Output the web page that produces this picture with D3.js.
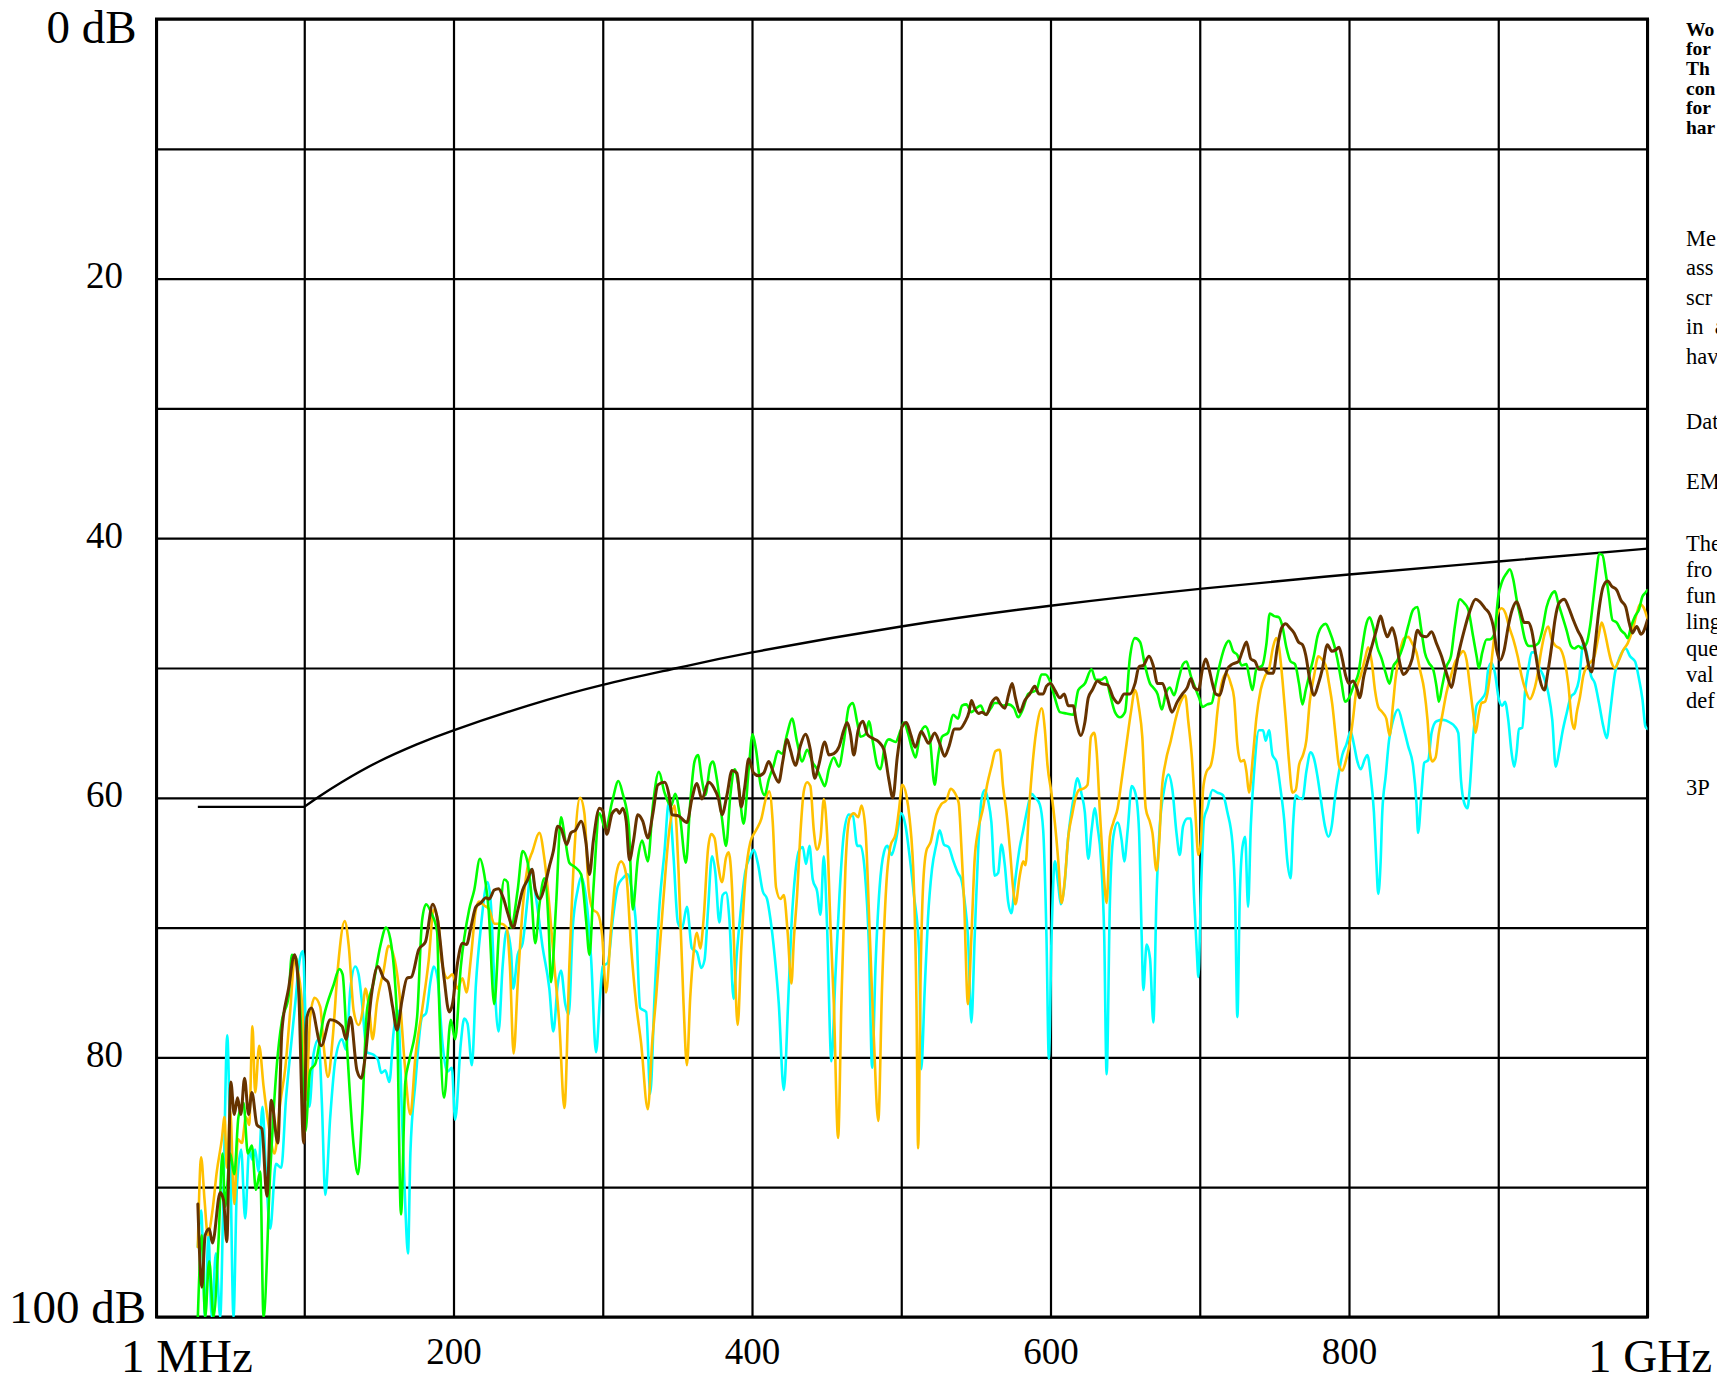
<!DOCTYPE html>
<html><head><meta charset="utf-8">
<script src="https://cdn.jsdelivr.net/npm/d3@7"></script>
<style>
html,body{margin:0;padding:0;background:#fff;overflow:hidden;}
svg{display:block;}
</style></head><body>
<svg id="chart" width="1717" height="1380"></svg>
<script>
// ---------- axes ----------
const xTickValues = [1,100,200,300,400,500,600,700,800,900,1000];
const xTickLabels = ["1 MHz","","200","","400","","600","","800","","1 GHz"];
const yTickValues = [0,10,20,30,40,50,60,70,80,90,100];
const yTickLabels = ["0 dB","","20","","40","","60","","80","","100 dB"];

// ---------- limit line (MHz, dB) ----------
const limitLine = [[28.7,60.7],[100,60.7],[110,59.9],[125,58.8],[150,57.2],[175,55.9],[200,54.8],[250,52.9],[300,51.3],[350,50.0],[400,48.8],[500,46.8],[600,45.2],[700,43.9],[800,42.8],[900,41.8],[1000,40.8]];

// ---------- measured series (MHz, dB) ----------
const seriesCyan = [[28.7,94.6],[30.9,91.8],[33.6,100],[35.8,93.7],[38.0,100],[40.8,95.1],[43.7,100],[45.9,90.2],[48.4,78.3],[50.4,87.4],[52.6,100],[54.8,90.2],[57.7,87.1],[60.4,92.4],[63.1,87.1],[65.3,87.9],[67.1,87.1],[69.3,88.8],[72.0,83.8],[74.3,88.8],[77.2,93.2],[81.0,88.2],[84.6,88.5],[87.7,83.3],[90.6,79.7],[94.0,75.8],[96.9,72.5],[99.1,71.8],[101.1,78.0],[103.4,83.8],[106.3,79.7],[109.6,78.6],[111.8,83.5],[114.1,90.6],[117.4,84.6],[120.8,80.2],[125.3,78.6],[128.0,79.4],[130.9,74.7],[134.2,73.0],[136.4,73.6],[138.7,75.8],[142.0,79.6],[146.5,79.8],[149.4,80.2],[151.6,81.2],[154.3,81.0],[157.0,81.9],[159.9,78.0],[162.8,76.4],[165.5,84.6],[167.7,91.5],[169.5,95.1],[171.1,87.4],[174.5,81.9],[178.9,76.9],[181.6,76.6],[184.5,74.2],[186.7,73.0],[189.3,73.9],[192.6,78.9],[196.0,81.1],[198.9,80.8],[201.1,84.8],[204.9,78.9],[207.2,77.0],[209.4,77.4],[212.3,80.6],[215.0,74.4],[218.3,70.0],[222.8,66.5],[225.1,68.3],[227.3,73.9],[230.2,78.0],[232.9,73.0],[235.6,70.2],[238.5,71.8],[240.0,74.7],[243.0,72.1],[246.3,71.2],[249.7,67.7],[251.9,65.5],[255.3,67.7],[259.7,71.5],[264.2,74.7],[266.9,78.0],[269.8,74.4],[272.0,73.3],[274.9,75.9],[277.2,76.7],[279.9,70.0],[283.2,67.1],[285.5,66.1],[288.8,67.7],[292.2,72.4],[295.5,79.6],[298.2,75.3],[300.0,73.0],[303.4,72.7],[306.7,69.4],[310.1,66.8],[313.4,66.2],[316.8,65.9],[319.0,66.8],[322.4,70.0],[325.1,76.2],[329.1,76.5],[331.8,82.8],[334.7,75.3],[338.0,68.3],[341.4,64.1],[344.3,60.3],[347.4,64.5],[350.3,69.6],[353.0,70.1],[356.4,68.4],[359.7,71.6],[363.1,71.9],[366.0,73.1],[368.2,72.5],[370.5,68.7],[373.2,64.5],[375.4,65.7],[378.1,69.6],[380.3,67.5],[382.6,67.3],[384.8,69.3],[387.7,75.5],[389.9,71.9],[392.2,69.0],[395.5,65.7],[398.9,64.5],[401.1,64.0],[404.0,65.1],[407.2,67.2],[410.1,67.8],[412.3,69.3],[415.2,72.2],[417.9,75.8],[421.3,82.5],[424.2,75.8],[426.4,69.9],[429.1,65.7],[431.8,64.0],[434.0,63.8],[436.2,65.1],[438.5,63.7],[440.7,66.3],[443.6,67.2],[445.9,69.0],[448.1,64.5],[450.3,69.9],[453.2,80.3],[455.9,73.7],[458.6,67.5],[461.5,62.8],[464.9,61.3],[467.6,61.4],[470.5,63.7],[472.7,63.7],[475.6,65.7],[478.3,71.3],[480.5,80.8],[482.8,72.8],[485.5,66.9],[488.4,64.2],[490.6,63.7],[493.5,64.4],[496.2,63.4],[500.2,61.2],[502.9,62.2],[505.6,64.5],[508.5,67.5],[511.9,71.6],[513.4,80.9],[515.7,74.8],[517.9,69.3],[520.6,65.5],[523.5,63.6],[525.7,62.5],[528.6,63.6],[531.8,63.8],[534.7,64.8],[538.0,65.8],[540.3,66.3],[542.5,68.0],[544.7,70.7],[547.0,77.3],[549.2,70.7],[551.5,64.1],[553.7,60.2],[555.9,59.4],[558.2,60.2],[560.4,61.9],[562.6,66.0],[564.9,65.8],[567.1,63.6],[569.4,65.2],[571.6,68.0],[573.8,68.9],[576.1,66.6],[579.4,63.8],[581.7,62.5],[584.6,60.8],[587.2,59.7],[589.9,60.0],[592.8,60.5],[595.1,62.5],[597.3,70.7],[598.9,80.1],[600.7,70.7],[602.9,64.9],[605.1,66.6],[606.9,68.2],[609.2,66.9],[611.9,63.0],[615.2,60.2],[618.1,58.5],[620.8,59.7],[623.0,61.1],[625.3,64.7],[627.5,62.5],[629.8,60.8],[631.5,62.2],[633.8,64.7],[636.0,70.7],[637.6,81.3],[639.8,68.0],[642.1,63.0],[645.0,61.9],[647.7,63.3],[649.4,64.9],[651.7,62.5],[654.4,59.1],[657.0,59.7],[659.3,62.5],[661.1,70.7],[662.2,74.8],[664.4,71.3],[666.7,72.4],[668.9,77.3],[671.0,67.7],[673.2,62.2],[676.1,59.4],[679.0,58.2],[681.7,59.4],[684.4,62.7],[686.6,64.4],[688.8,62.2],[691.7,61.6],[694.0,61.6],[696.2,67.7],[698.0,71.8],[699.1,73.8],[700.7,67.7],[702.9,61.6],[705.1,60.8],[708.5,59.4],[711.8,59.6],[715.6,59.8],[718.5,61.1],[721.9,63.5],[723.7,67.7],[725.2,76.9],[726.8,67.7],[728.6,63.8],[730.4,63.0],[732.4,68.4],[734.2,62.2],[736.4,58.0],[739.7,54.8],[742.4,54.8],[744.2,55.6],[746.4,54.8],[748.7,56.7],[751.3,57.2],[754.2,59.4],[756.5,61.6],[758.7,64.9],[760.9,66.2],[762.5,62.2],[764.3,59.8],[766.5,60.0],[768.8,60.1],[771.4,58.0],[774.3,56.5],[776.6,57.0],[778.8,58.3],[781.0,60.0],[783.9,62.2],[786.2,63.0],[788.4,62.2],[790.6,60.0],[793.3,58.0],[795.5,56.7],[798.2,55.9],[801.1,54.9],[803.3,55.9],[805.6,57.2],[807.8,57.8],[810.7,57.0],[812.3,56.7],[814.5,58.3],[816.7,61.1],[818.3,64.9],[819.6,67.4],[821.2,64.9],[822.3,61.1],[824.6,58.3],[826.8,55.6],[829.6,54.0],[832.9,53.2],[836.3,54.5],[839.6,56.0],[843.0,57.6],[845.2,60.4],[846.3,62.7],[848.6,59.6],[850.4,57.3],[853.1,57.1],[855.3,55.0],[858.6,54.1],[863.1,54.0],[867.6,54.2],[870.9,54.5],[873.2,55.0],[875.0,58.6],[877.2,60.4],[879.4,60.8],[881.0,59.1],[883.2,55.3],[885.5,52.9],[888.8,52.4],[891.5,51.9],[893.3,50.1],[895.5,49.6],[897.8,50.4],[900.4,52.4],[902.7,52.9],[904.5,52.6],[906.7,54.0],[908.9,56.5],[910.7,57.6],[912.3,56.5],[913.9,54.7],[916.1,54.6],[917.9,51.9],[920.1,50.1],[922.4,48.8],[924.6,48.8],[927.3,49.9],[930.2,50.6],[933.5,51.9],[936.2,54.0],[938.5,57.6],[940.7,56.5],[942.9,55.0],[945.8,53.5],[948.7,52.2],[951.4,51.9],[954.1,50.9],[957.0,48.1],[959.2,48.8],[962.2,50.6],[964.8,51.2],[967.5,52.7],[970.4,54.5],[972.7,55.4],[974.9,53.5],[978.2,50.4],[981.6,49.1],[985.4,48.5],[988.3,49.1],[991.7,49.5],[993.9,50.6],[996.6,52.4],[998.6,54.5],[1000,54.7]];

const seriesOrange = [[28.7,94.6],[30.9,87.7],[33.2,91.0],[35.4,93.7],[38.5,91.8],[41.4,88.8],[44.8,86.3],[46.6,84.6],[48.1,88.5],[50.4,84.1],[53.1,91.3],[55.5,86.3],[58.2,86.6],[60.9,84.6],[63.1,85.2],[65.3,77.6],[67.1,82.7],[69.8,79.1],[72.7,82.2],[76.1,85.2],[80.1,87.4],[83.9,83.5],[87.3,80.8],[90.6,76.4],[93.5,72.5],[96.2,73.6],[98.4,75.8],[101.1,83.3],[104.0,76.9],[106.9,75.4],[110.7,76.1],[113.0,79.1],[115.9,81.5],[119.0,78.6],[122.6,73.0],[127.1,69.5],[129.8,71.4],[133.1,76.4],[136.4,77.5],[139.1,76.4],[140.9,74.7],[143.6,76.4],[145.8,78.6],[148.7,75.8],[153.2,73.3],[156.5,71.4],[160.6,72.5],[163.7,75.0],[167.3,80.5],[171.1,84.4],[174.5,79.9],[178.9,76.4],[183.4,72.5],[186.7,68.6],[189.7,69.5],[192.0,72.5],[196.0,73.9],[199.3,73.6],[202.7,74.7],[206.0,73.9],[208.7,75.0],[211.6,72.4],[215.0,68.6],[217.2,68.0],[220.6,68.3],[223.9,68.6],[227.3,69.7],[231.8,69.7],[235.6,70.0],[237.8,73.0],[240.3,79.7],[243.0,74.4],[246.3,68.6],[249.7,65.3],[253.0,64.1],[257.5,62.7],[260.9,64.7],[264.2,68.3],[267.6,73.0],[270.9,77.4],[274.3,83.9],[277.6,73.0],[281.0,64.1],[284.8,60.0],[287.7,61.2],[290.6,67.1],[293.3,68.6],[296.6,68.9],[299.6,70.6],[302.2,75.0],[305.6,70.0],[309.0,65.9],[312.3,64.9],[315.7,65.9],[319.0,71.5],[322.4,75.9],[325.7,78.9],[330.2,84.0],[333.1,78.9],[335.8,75.3],[340.3,68.3],[344.7,62.4],[348.1,60.6],[350.8,65.7],[354.1,75.8],[356.4,80.6],[358.6,75.4],[360.9,71.9],[363.1,70.4],[365.3,71.6],[367.6,69.3],[370.5,64.0],[372.7,62.8],[374.9,63.1],[377.2,65.1],[379.9,66.5],[382.6,64.6],[384.3,64.2],[386.6,66.9],[388.4,72.8],[390.4,77.5],[392.8,71.6],[395.5,66.3],[398.9,63.4],[402.7,62.5],[406.3,61.6],[409.4,60.0],[411.6,59.5],[413.9,61.9],[416.1,66.9],[419.0,67.8],[421.3,67.5],[423.9,70.4],[426.4,74.3],[428.0,71.0],[430.2,67.5],[432.4,62.8],[434.7,59.5],[436.9,58.8],[439.1,59.1],[441.4,62.5],[443.6,64.0],[445.9,63.1],[448.1,60.1],[450.3,62.8],[452.6,69.9],[454.8,75.8],[457.7,86.2],[459.9,75.8],[462.6,65.4],[465.3,61.6],[468.2,61.2],[471.1,61.5],[473.4,60.6],[476.1,62.6],[478.7,69.9],[481.7,78.7],[484.6,84.9],[487.2,74.3],[489.9,66.9],[492.8,63.7],[496.2,62.8],[498.4,61.0],[500.7,59.0],[503.4,59.8],[505.6,61.6],[508.5,66.9],[510.2,75.8],[511.3,87.0],[513.0,73.5],[514.5,67.1],[516.8,64.1],[519.7,63.4],[523.5,61.3],[526.8,60.5],[530.2,60.2],[533.1,59.3],[535.8,59.6],[538.5,60.4],[540.3,63.8],[542.1,68.0],[544.7,75.9],[547.0,70.7],[549.2,64.7],[551.5,62.5],[554.8,60.8],[557.7,58.9],[560.4,57.6],[563.1,56.4],[566.0,56.3],[568.2,59.1],[570.5,61.1],[572.7,63.8],[574.9,66.9],[576.5,68.2],[579.4,66.0],[581.7,64.9],[583.2,65.2],[585.5,61.1],[588.4,56.9],[591.3,54.2],[594.0,53.1],[596.2,54.7],[598.0,57.5],[600.7,59.7],[602.9,61.9],[605.1,64.7],[607.4,68.1],[609.6,66.3],[611.9,63.0],[614.5,61.3],[616.8,60.0],[619.0,59.4],[621.9,59.3],[624.8,59.0],[627.1,55.3],[629.3,55.0],[630.9,56.4],[633.1,61.1],[635.3,65.2],[637.6,68.1],[639.8,63.0],[642.1,61.9],[645.0,60.8],[647.7,58.6],[651.0,55.8],[653.9,53.4],[656.6,51.7],[659.3,53.1],[661.5,55.3],[663.8,60.8],[666.7,61.9],[668.3,62.7],[671.0,65.6],[672.8,63.5],[674.6,59.4],[677.2,57.2],[680.6,55.6],[683.9,53.9],[687.3,52.6],[690.2,52.1],[692.4,54.2],[694.6,56.7],[696.9,60.8],[699.1,64.4],[700.7,63.5],[702.2,59.4],[704.5,58.0],[707.4,57.5],[709.6,56.1],[711.8,53.4],[714.1,51.5],[716.3,50.6],[717.9,50.4],[720.8,51.2],[723.0,52.3],[725.2,55.9],[727.5,57.2],[729.7,57.1],[731.3,58.0],[733.0,59.6],[735.7,56.7],[737.9,53.9],[740.8,51.7],[743.8,50.6],[746.4,50.1],[749.1,48.4],[751.3,47.7],[753.1,48.4],[755.4,50.9],[757.6,53.9],[759.8,57.2],[762.1,59.6],[764.3,59.4],[766.5,57.5],[769.2,56.7],[771.4,55.6],[773.7,52.6],[776.6,50.6],[779.5,49.1],[781.7,49.3],[784.4,49.8],[786.6,51.2],[788.8,52.8],[791.1,55.3],[793.3,57.5],[795.5,57.9],[797.8,57.2],[800.0,56.1],[802.7,53.9],[804.9,51.7],[807.8,50.6],[810.7,49.3],[812.9,48.4],[815.2,49.5],[817.4,51.7],[819.6,53.0],[822.3,53.4],[825.0,53.9],[827.2,55.2],[829.5,52.8],[831.1,50.9],[834.0,48.8],[837.0,47.7],[839.6,47.6],[842.3,48.1],[845.2,48.8],[847.5,50.1],[850.4,51.7],[852.6,54.0],[854.2,56.5],[855.7,57.2],[858.0,56.9],[860.2,55.0],[862.4,53.7],[865.3,51.9],[868.3,50.6],[870.9,49.6],[873.6,49.1],[876.5,48.7],[878.8,49.4],[881.0,51.4],[883.2,53.5],[884.8,55.0],[887.0,53.5],[888.8,52.7],[891.1,52.6],[892.8,51.9],[895.1,49.9],[897.3,47.6],[899.6,45.8],[902.2,45.4],[904.9,45.8],[907.2,46.8],[910.1,47.8],[913.0,49.1],[915.6,50.6],[918.3,51.7],[921.2,52.4],[923.5,51.9],[925.7,50.9],[928.6,48.8],[931.3,47.3],[933.5,46.8],[935.8,47.8],[938.5,48.3],[941.4,48.5],[944.3,49.4],[946.9,51.2],[949.2,54.0],[951.0,54.7],[952.5,53.5],[954.8,52.2],[957.0,50.6],[959.2,49.9],[961.5,49.6],[964.4,49.1],[967.1,47.6],[969.3,46.5],[971.5,47.3],[973.8,48.6],[976.0,49.6],[978.2,50.0],[980.9,49.4],[983.8,48.6],[986.7,48.1],[989.9,47.1],[992.8,45.8],[995.0,45.1],[997.2,45.3],[1000,46.2]];

const seriesGreen = [[28.7,100],[31.4,93.7],[33.6,100],[36.3,95.7],[39.2,100],[42.5,94.3],[45.2,87.4],[47.0,91.5],[50.4,87.4],[53.1,89.0],[55.9,84.6],[59.3,83.5],[62.2,87.4],[64.9,86.8],[67.6,90.2],[70.5,88.8],[72.7,100],[77.2,88.8],[81.7,80.5],[85.0,77.2],[89.5,75.3],[91.7,72.1],[94.4,72.3],[97.3,76.4],[100.7,85.7],[104.0,81.0],[107.4,80.5],[113.0,76.9],[119.7,74.4],[123.5,73.2],[125.7,73.6],[128.6,79.1],[133.1,86.8],[136.0,89.0],[138.7,84.6],[142.0,76.4],[146.5,74.2],[151.0,71.4],[154.8,70.0],[157.7,70.9],[162.1,76.9],[164.8,92.1],[167.7,81.9],[170.4,80.2],[175.6,76.9],[178.9,69.5],[181.6,68.2],[185.2,68.9],[189.0,70.3],[190.4,75.9],[193.7,83.1],[198.2,77.1],[201.1,78.6],[204.9,73.0],[210.5,68.6],[213.9,67.1],[217.7,64.7],[220.6,65.9],[223.5,68.6],[227.3,75.9],[230.6,70.0],[234.0,66.3],[236.2,66.5],[238.5,70.0],[243.0,67.1],[246.3,64.1],[249.7,65.0],[251.9,67.1],[254.8,71.2],[257.5,68.3],[260.9,66.2],[263.8,70.0],[265.3,74.2],[268.7,68.3],[272.0,61.5],[274.9,63.3],[277.6,65.0],[281.0,65.3],[285.5,65.9],[288.8,69.4],[291.1,72.1],[293.7,67.1],[297.8,61.2],[301.8,62.4],[306.3,60.3],[310.5,58.7],[313.4,59.7],[317.4,62.1],[320.1,68.6],[323.5,64.7],[326.4,63.3],[330.2,64.9],[333.6,60.6],[337.6,58.0],[341.4,59.6],[345.9,60.6],[348.5,59.7],[351.9,61.6],[355.7,65.0],[358.6,60.4],[361.5,57.2],[363.8,56.7],[366.4,58.6],[368.7,59.8],[372.0,57.5],[373.8,57.2],[376.5,58.6],[379.9,61.6],[382.6,63.7],[385.5,59.8],[388.4,57.8],[391.1,59.2],[394.4,62.0],[397.8,57.8],[400.4,55.1],[402.7,56.3],[405.6,58.9],[408.5,59.8],[411.2,58.6],[414.5,57.5],[417.4,56.4],[420.1,56.6],[423.5,55.1],[426.8,53.9],[430.2,55.7],[433.6,57.2],[436.9,56.3],[440.7,57.3],[443.6,57.8],[446.5,58.6],[448.8,59.1],[451.5,57.8],[454.8,56.9],[458.2,57.6],[461.5,55.7],[464.9,53.0],[467.6,52.7],[470.5,54.2],[472.7,55.3],[476.1,55.1],[478.3,54.1],[481.0,55.7],[483.9,57.5],[486.1,57.8],[489.0,56.0],[491.7,55.5],[496.2,55.7],[499.6,54.8],[501.8,54.2],[504.7,55.1],[507.4,56.3],[509.6,56.9],[512.3,55.3],[516.1,54.5],[519.0,55.3],[522.4,59.0],[524.6,56.9],[527.3,55.3],[531.3,55.0],[534.7,53.6],[538.0,53.9],[540.7,52.9],[543.6,52.8],[547.0,53.4],[550.3,53.1],[553.2,52.9],[556.4,53.6],[560.0,53.1],[562.6,52.7],[565.3,52.7],[568.2,52.9],[571.6,52.8],[575.6,53.1],[578.3,53.8],[581.7,53.1],[585.0,52.0],[590.6,51.7],[594.0,50.5],[596.6,50.5],[599.6,51.0],[602.9,52.3],[606.3,53.4],[610.7,53.5],[615.2,53.6],[618.6,51.7],[623.0,51.2],[627.5,50.1],[630.2,50.9],[633.8,50.9],[636.9,50.7],[639.8,52.0],[643.2,53.4],[646.5,53.8],[649.9,53.4],[653.2,49.2],[656.6,47.7],[660.0,48.0],[663.3,49.8],[666.7,51.2],[668.8,51.5],[671.7,52.0],[674.6,53.2],[677.2,52.0],[679.9,51.5],[682.8,52.1],[685.7,50.9],[688.8,49.7],[691.1,49.5],[694.0,50.6],[696.9,51.5],[699.6,52.3],[701.8,53.0],[705.1,52.8],[708.0,52.7],[710.7,51.2],[714.1,49.4],[717.0,48.3],[719.6,47.9],[722.3,48.7],[725.2,49.0],[728.1,49.8],[731.3,49.7],[733.0,50.6],[735.3,51.7],[737.9,50.1],[742.0,49.8],[744.6,48.2],[746.9,45.8],[749.8,46.0],[753.1,46.1],[755.4,46.8],[758.0,48.4],[760.9,49.5],[763.8,49.7],[766.5,51.2],[768.8,52.8],[771.0,51.7],[773.7,50.4],[776.6,49.0],[778.8,47.6],[781.7,46.8],[784.4,46.6],[787.1,47.2],[790.0,48.2],[792.2,49.3],[795.1,51.2],[797.3,52.6],[800.0,52.3],[803.3,51.3],[806.3,50.4],[808.9,48.4],[811.2,46.8],[813.8,46.1],[816.1,46.8],[819.0,48.4],[821.9,49.3],[824.6,50.4],[827.2,51.2],[829.6,49.9],[832.5,49.4],[836.3,48.3],[839.6,46.8],[843.0,45.5],[845.9,45.3],[848.1,46.8],[850.8,48.8],[853.5,49.6],[856.4,50.1],[858.6,51.4],[860.2,52.6],[862.4,51.4],[865.3,49.9],[868.3,49.1],[870.9,46.8],[874.3,44.7],[877.2,45.0],[879.9,45.5],[883.2,47.6],[885.5,49.1],[887.0,50.0],[889.3,48.8],[892.2,47.8],[894.4,47.8],[897.3,47.4],[900.0,44.5],[902.7,43.3],[905.6,42.7],[907.8,42.4],[910.1,43.2],[912.3,44.7],[915.2,46.3],[917.9,47.8],[920.6,48.3],[923.5,48.3],[926.8,48.1],[929.5,47.1],[932.4,45.3],[935.3,44.4],[938.0,44.1],[940.2,45.0],[942.9,46.0],[945.8,47.1],[948.7,48.3],[951.0,48.5],[953.7,48.3],[956.3,48.5],[959.2,48.1],[961.5,46.8],[963.7,44.7],[966.0,42.4],[967.5,41.2],[969.8,41.3],[972.0,42.7],[974.2,44.5],[976.5,46.3],[979.4,46.5],[982.3,47.1],[985.0,47.4],[986.7,47.7],[989.0,46.8],[991.7,46.0],[994.3,45.5],[996.6,44.5],[998.6,44.2],[1000,44.0]];

const seriesBrown = [[28.7,91.3],[31.4,97.7],[33.6,93.7],[36.3,93.2],[38.5,94.3],[43.7,90.4],[45.9,91.0],[48.1,94.2],[50.8,81.9],[53.1,84.4],[55.3,83.1],[57.5,84.4],[60.0,81.6],[62.7,84.4],[64.9,82.7],[68.3,85.2],[71.6,85.5],[75.0,90.7],[77.9,83.3],[82.3,86.6],[85.0,78.0],[89.5,74.7],[93.5,72.1],[96.2,74.7],[99.6,86.6],[101.8,76.9],[104.7,76.2],[111.4,79.1],[117.4,77.1],[125.3,77.6],[128.0,78.6],[130.9,76.9],[135.3,81.0],[138.2,81.6],[140.9,79.9],[144.9,75.3],[149.4,73.0],[153.2,73.9],[156.1,74.2],[159.2,76.1],[162.1,77.9],[165.5,75.6],[168.8,73.9],[171.8,73.8],[176.7,71.7],[181.2,71.1],[186.1,68.2],[189.3,69.4],[193.7,73.9],[197.1,76.5],[199.3,75.9],[202.7,72.7],[206.0,71.2],[208.7,71.3],[211.6,70.0],[215.0,68.4],[218.3,68.1],[221.7,67.7],[223.9,67.8],[227.3,67.1],[230.2,67.0],[233.3,67.7],[236.9,69.1],[240.0,70.0],[243.0,68.7],[246.3,67.1],[249.7,66.3],[252.6,65.5],[254.8,67.1],[257.9,67.8],[260.9,66.9],[264.2,65.3],[266.9,64.1],[269.8,62.2],[272.1,62.4],[275.8,63.6],[278.7,62.7],[281.7,62.5],[285.5,61.8],[288.8,63.5],[291.1,65.9],[293.7,63.3],[297.8,60.8],[300.0,61.0],[302.7,62.8],[306.3,61.2],[309.4,60.9],[311.2,61.2],[313.4,60.8],[315.7,61.8],[317.9,64.8],[320.6,63.3],[323.5,61.3],[326.8,61.8],[330.2,63.1],[333.6,61.2],[336.9,59.0],[341.4,58.8],[344.7,60.0],[346.3,61.3],[350.8,61.4],[356.4,61.9],[359.7,60.1],[363.1,58.9],[366.4,60.1],[370.9,58.8],[374.3,59.2],[377.6,60.1],[379.9,61.3],[383.2,59.8],[386.6,57.9],[389.9,58.1],[392.8,60.7],[395.1,59.2],[397.8,57.0],[401.1,58.1],[404.5,58.3],[407.8,58.1],[411.2,57.2],[414.5,58.1],[417.9,58.8],[420.6,57.2],[423.5,55.5],[425.7,56.3],[429.1,57.5],[432.4,56.0],[435.8,55.1],[439.1,56.3],[442.1,58.5],[444.7,57.5],[448.8,55.7],[451.5,56.7],[454.8,56.6],[458.2,56.1],[461.5,54.8],[463.8,54.2],[466.0,55.1],[468.2,56.7],[471.1,54.8],[474.3,54.1],[477.2,55.1],[480.5,55.4],[485.0,55.7],[488.4,56.3],[491.7,58.6],[494.4,60.0],[497.3,56.9],[500.7,54.5],[503.4,54.2],[506.3,55.1],[509.4,56.1],[513.4,54.9],[515.7,55.3],[518.3,55.8],[522.4,55.0],[525.7,55.8],[529.1,56.8],[531.8,56.1],[535.8,54.7],[539.1,54.7],[542.5,54.2],[545.4,53.4],[547.0,52.5],[549.2,53.1],[551.9,53.5],[554.1,53.4],[557.0,53.6],[560.4,52.7],[563.8,52.3],[566.0,52.7],[569.4,53.1],[572.0,52.0],[574.3,51.2],[576.5,52.3],[579.4,53.4],[582.8,52.5],[586.1,52.0],[589.5,51.4],[592.2,52.0],[595.1,52.0],[597.3,51.4],[600.0,51.2],[602.9,51.7],[606.3,52.3],[609.2,52.0],[611.9,52.9],[615.2,52.9],[617.4,54.2],[620.4,55.2],[623.0,54.2],[625.3,52.3],[628.0,51.7],[631.5,51.0],[634.2,51.2],[638.3,51.3],[642.1,52.3],[645.4,52.7],[649.4,52.0],[653.2,52.0],[656.6,51.2],[659.3,49.9],[662.2,49.8],[666.0,49.1],[668.8,49.8],[671.7,51.2],[675.0,51.2],[678.3,52.3],[681.3,53.4],[685.0,52.6],[688.4,52.0],[691.7,51.5],[694.0,50.8],[696.2,51.5],[699.1,51.7],[701.8,50.1],[704.0,49.3],[706.3,50.1],[708.5,51.2],[710.7,52.0],[713.4,52.1],[716.3,50.9],[718.5,50.1],[721.9,49.7],[725.9,49.5],[728.6,48.7],[731.3,48.0],[734.2,49.3],[737.1,49.5],[739.7,50.1],[743.1,50.1],[746.0,50.4],[749.1,50.4],[752.0,48.4],[754.9,46.9],[757.6,46.6],[760.3,46.9],[763.2,47.3],[766.1,48.0],[768.8,48.2],[771.0,49.0],[773.7,50.9],[776.6,52.1],[779.5,51.2],[782.1,50.1],[785.5,48.2],[788.4,48.7],[791.1,48.6],[793.3,48.4],[795.5,49.3],[797.8,50.6],[800.0,51.2],[802.7,51.0],[805.6,51.7],[807.1,52.3],[810.0,50.6],[812.9,49.3],[815.6,48.2],[818.3,47.1],[821.2,46.0],[823.4,46.9],[825.7,47.6],[828.9,46.9],[831.0,47.6],[834.0,49.6],[836.3,50.5],[839.6,50.1],[842.3,49.3],[845.9,47.1],[848.5,47.5],[851.9,47.6],[855.3,47.2],[858.6,48.1],[862.0,49.1],[865.3,50.4],[868.7,51.5],[870.9,50.4],[873.6,48.8],[877.2,47.1],[881.0,45.6],[884.8,44.7],[887.7,44.9],[891.1,45.4],[894.4,45.9],[896.7,46.8],[898.9,48.6],[901.1,49.4],[904.0,48.6],[906.7,46.8],[909.4,45.5],[912.3,44.9],[914.5,45.5],[917.4,46.5],[920.1,46.5],[922.4,47.1],[925.0,48.9],[927.9,50.9],[930.9,51.7],[933.1,50.4],[935.8,48.3],[938.0,46.3],[940.7,45.0],[944.3,44.7],[947.0,45.3],[950.3,46.3],[953.2,47.1],[955.9,47.7],[958.6,48.7],[960.8,49.9],[962.6,50.3],[964.8,48.3],[967.5,45.5],[970.4,43.7],[973.3,43.3],[976.0,43.7],[979.4,44.0],[982.3,44.8],[985.4,45.3],[987.7,46.5],[989.9,47.3],[992.8,46.8],[995.7,47.4],[1000,46.3]];

// ---------- side notes (clipped by the page edge, as in the source) ----------
const noteBold = ["Wo","for","Th","con","for","har"];
const notePara1 = ["Me","ass","scr","in  a","hav"];
const notePara2 = ["Dat"];
const notePara3 = ["EM"];
const notePara4 = ["The","fro","fun","ling","que","val","def"];
const notePara5 = ["3P"];

// ---------- drawing ----------
const W = 1717, H = 1380;
const margin = {left: 156.5, top: 19, right: 69.5, bottom: 63};
const x0 = margin.left, x1 = W - margin.right, y0 = margin.top, y1 = H - margin.bottom;
const FONT = "'Liberation Serif','Times New Roman',Times,serif";

const svg = d3.select("#chart");
svg.append("rect").attr("width", W).attr("height", H).attr("fill", "#fff");

const x = d3.scaleLinear().domain([1, 1000]).range([x0, x1]);
const y = d3.scaleLinear().domain([0, 100]).range([y0, y1]);

// vertical grid + x labels
const gx = svg.append("g").attr("transform", `translate(0,${y1})`)
  .call(d3.axisBottom(x).tickValues(xTickValues).tickSize(-(y1 - y0)).tickSizeOuter(0)
    .tickFormat((d, i) => xTickLabels[i]));
gx.select(".domain").remove();
gx.selectAll(".tick line").attr("stroke", "#000").attr("stroke-width", 2.2);
gx.selectAll(".tick text")
  .attr("font-family", FONT).attr("fill", "#000")
  .attr("font-size", (d, i) => (i === 0 || i === xTickValues.length - 1) ? 47 : 37)
  .attr("dy", 0)
  .attr("y", (d, i) => (i === 0 || i === xTickValues.length - 1) ? 55 : 47)
  .attr("x", (d, i) => i === 0 ? 30 : (i === xTickValues.length - 1 ? 2 : 0));

// horizontal grid + y labels
const gy = svg.append("g").attr("transform", `translate(${x0},0)`)
  .call(d3.axisLeft(y).tickValues(yTickValues).tickSize(-(x1 - x0)).tickSizeOuter(0)
    .tickFormat((d, i) => yTickLabels[i]));
gy.select(".domain").remove();
gy.selectAll(".tick line").attr("stroke", "#000").attr("stroke-width", 2.2);
gy.selectAll(".tick text")
  .attr("font-family", FONT).attr("fill", "#000")
  .attr("font-size", (d, i) => (i === 0 || i === yTickValues.length - 1) ? 47 : 37)
  .attr("dy", 0)
  .attr("y", (d, i) => i === 0 ? 23 : (i === yTickValues.length - 1 ? 5 : 9))
  .attr("x", (d, i) => i === 0 ? -20 : (i === yTickValues.length - 1 ? -10.5 : -33.5));

// frame
svg.append("rect").attr("x", x0).attr("y", y0).attr("width", x1 - x0).attr("height", y1 - y0)
  .attr("fill", "none").attr("stroke", "#000").attr("stroke-width", 3);

// clip
svg.append("clipPath").attr("id", "plotclip").append("rect")
  .attr("x", x0).attr("y", y0).attr("width", x1 - x0).attr("height", y1 - y0);
const plot = svg.append("g").attr("clip-path", "url(#plotclip)");

const lineLin = d3.line().x(d => x(d[0])).y(d => y(d[1]));
const lineSmooth = d3.line().x(d => x(d[0])).y(d => y(d[1])).curve(d3.curveMonotoneX);
const lineNatural = d3.line().x(d => x(d[0])).y(d => y(d[1])).curve(d3.curveNatural);

// limit line: flat part straight, rising part smooth
plot.append("path").attr("d", lineLin(limitLine.slice(0, 2)))
  .attr("fill", "none").attr("stroke", "#000").attr("stroke-width", 2.4);
plot.append("path").attr("d", lineNatural(limitLine.slice(1)))
  .attr("fill", "none").attr("stroke", "#000").attr("stroke-width", 2.4);

const seriesList = [
  {data: seriesCyan, color: "#00FFFF", w: 2.6},
  {data: seriesOrange, color: "#FFC000", w: 2.6},
  {data: seriesGreen, color: "#00FF00", w: 2.6},
  {data: seriesBrown, color: "#663300", w: 3.0}
];
plot.selectAll("path.series").data(seriesList).enter().append("path")
  .attr("class", "series")
  .attr("d", s => lineSmooth(s.data))
  .attr("fill", "none").attr("stroke", s => s.color).attr("stroke-width", s => s.w)
  .attr("stroke-linejoin", "round").attr("stroke-linecap", "round");

// side notes
const noteX = 1686;
const notes = svg.append("g").attr("font-family", FONT).attr("fill", "#000");
function para(lines, startY, lh, size, weight) {
  notes.append("g").selectAll("text").data(lines).enter().append("text")
    .attr("x", noteX).attr("y", (d, i) => startY + i * lh)
    .attr("font-size", size).attr("font-weight", weight)
    .attr("xml:space", "preserve").style("white-space", "pre")
    .text(d => d);
}
para(noteBold, 35.5, 19.7, 19.5, "bold");
para(notePara1, 245.5, 29.6, 22.5, "normal");
para(notePara2, 428.5, 26, 22.5, "normal");
para(notePara3, 488.5, 26, 22.5, "normal");
para(notePara4, 550.5, 26.3, 22.5, "normal");
para(notePara5, 794.5, 26, 22.5, "normal");
</script>
</body></html>
